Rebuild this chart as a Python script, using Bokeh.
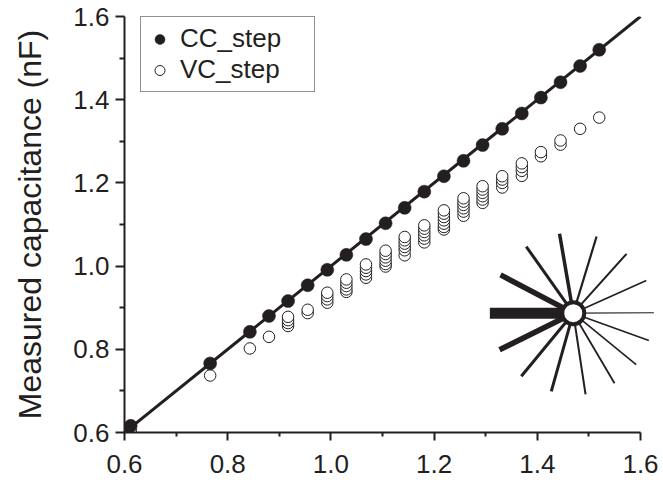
import math
from bokeh.plotting import figure
from bokeh.models import (ColumnDataSource, Legend, LegendItem, FixedTicker,
                          PrintfTickFormatter, Range1d)
from bokeh.embed import file_html
from bokeh.resources import INLINE

# ---------------- data ----------------
true_cap = [0.612, 0.766, 0.843, 0.880, 0.917, 0.955, 0.993, 1.030, 1.068, 1.106,
            1.143, 1.181, 1.219, 1.257, 1.294, 1.332, 1.370, 1.407, 1.445, 1.483, 1.520]
cc_step = [0.616, 0.766, 0.842, 0.880, 0.916, 0.954, 0.991, 1.027, 1.065, 1.103,
           1.140, 1.179, 1.216, 1.253, 1.291, 1.330, 1.367, 1.405, 1.442, 1.481, 1.520]
vc_step = [
    [0.605, 0.601],
    [0.737],
    [0.802],
    [0.830],
    [0.878, 0.870, 0.863, 0.856],
    [0.895, 0.887],
    [0.936, 0.928, 0.920, 0.912],
    [0.968, 0.960, 0.952, 0.944, 0.938],
    [1.004, 0.996, 0.988, 0.980, 0.972],
    [1.037, 1.029, 1.021, 1.013, 1.005, 0.999],
    [1.070, 1.062, 1.054, 1.046, 1.038, 1.026],
    [1.098, 1.090, 1.082, 1.074, 1.066, 1.057],
    [1.134, 1.126, 1.118, 1.110, 1.102, 1.094, 1.088],
    [1.163, 1.155, 1.147, 1.139, 1.131, 1.121],
    [1.192, 1.184, 1.176, 1.168, 1.160, 1.152],
    [1.216, 1.208, 1.200, 1.189],
    [1.247, 1.238, 1.229, 1.217],
    [1.274, 1.264],
    [1.302, 1.292],
    [1.330],
    [1.357],
]
identity_x = [0.6, 1.6]
identity_y = [0.6, 1.6]
x_major_ticks = [0.6, 0.8, 1.0, 1.2, 1.4, 1.6]
x_minor_ticks = [0.7, 0.9, 1.1, 1.3, 1.5]
y_major_ticks = [0.6, 0.8, 1.0, 1.2, 1.4, 1.6]
y_minor_ticks = [0.7, 0.9, 1.1, 1.3, 1.5]
series_names = ["CC_step", "VC_step"]
y_title = "Measured capacitance (nF)"

# ---------------- layout ----------------
INK = "#231f20"
FONT = "Liberation Sans"
W, H = 663, 480
B_LEFT, B_RIGHT, B_TOP, B_BOTTOM = 124, 8, 16, 48
frame_w = W - B_LEFT - B_RIGHT
frame_h = H - B_TOP - B_BOTTOM
px_per_x = 516.0
x0_axis = 0.6
x_end = x0_axis + frame_w / px_per_x
px_per_y = frame_h / (1.6 - 0.6)

p = figure(width=W, height=H, output_backend="svg", toolbar_location=None,
           x_range=Range1d(x0_axis, x_end), y_range=Range1d(0.6, 1.6),
           min_border_left=B_LEFT, min_border_right=B_RIGHT,
           min_border_top=B_TOP, min_border_bottom=B_BOTTOM)
p.outline_line_color = None
p.xgrid.grid_line_color = None
p.ygrid.grid_line_color = None
p.background_fill_color = "white"
p.border_fill_color = "white"

# VC_step open circles (lower ones first so upper ones lie on top)
vx, vy = [], []
for xv, stack in zip(true_cap, vc_step):
    for yv in sorted(stack):
        vx.append(xv)
        vy.append(yv)
vc_src = ColumnDataSource(dict(x=vx, y=vy))
vc_r = p.scatter("x", "y", source=vc_src, marker="circle", size=11.5,
                 fill_color="white", line_color=INK, line_width=1)

# identity line
p.line(identity_x, identity_y, line_color=INK, line_width=3)

# CC_step filled circles
cc_src = ColumnDataSource(dict(x=true_cap, y=cc_step))
cc_r = p.scatter("x", "y", source=cc_src, marker="circle", size=13,
                 fill_color=INK, line_color=INK, line_width=0.5)

# ---------------- decorative neuron icon ----------------
icon_cx, icon_cy = 1.4697, 0.8868
# (angle deg, length px, width px)
spokes = [(180, 83.4, 11), (152.2, 82.2, 5.5), (206.4, 82.3, 5.5), (125.2, 81.6, 3),
          (99.8, 80.6, 3.5), (73.1, 80.2, 2.2), (48.1, 79.8, 2.0), (24.1, 80.0, 1.6),
          (0.3, 80.6, 1.2), (-19.9, 80.4, 1.5), (-39.2, 81.2, 1.6), (-59.5, 81.3, 1.8),
          (-81.4, 82.2, 2.0), (-105.7, 81.3, 3.0), (-129.5, 81.7, 3.0)]
sx1 = [icon_cx + L * math.cos(math.radians(a)) / px_per_x for a, L, w in spokes]
sy1 = [icon_cy + L * math.sin(math.radians(a)) / px_per_y for a, L, w in spokes]
sp_src = ColumnDataSource(dict(x0=[icon_cx] * len(spokes), y0=[icon_cy] * len(spokes),
                               x1=sx1, y1=sy1, w=[s[2] for s in spokes]))
p.segment("x0", "y0", "x1", "y1", source=sp_src, line_color=INK, line_width="w")
p.scatter([icon_cx], [icon_cy], marker="circle", size=22, fill_color="white",
          line_color=INK, line_width=4)

# ---------------- axes ----------------
for ax, maj, mnr in ((p.xaxis[0], x_major_ticks, x_minor_ticks),
                     (p.yaxis[0], y_major_ticks, y_minor_ticks)):
    ax.ticker = FixedTicker(ticks=maj, minor_ticks=mnr)
    ax.formatter = PrintfTickFormatter(format="%.1f")
    ax.bounds = (0.6, 1.6)
    ax.axis_line_color = INK
    ax.axis_line_width = 2
    ax.major_tick_line_color = INK
    ax.minor_tick_line_color = INK
    ax.major_tick_line_width = 2
    ax.minor_tick_line_width = 2
    ax.major_tick_in = 0
    ax.minor_tick_in = 0
    ax.major_label_text_font = FONT
    ax.major_label_text_font_size = "26px"
    ax.major_label_text_color = INK

p.xaxis.major_tick_out = 8
p.xaxis.minor_tick_out = 4
p.xaxis.major_label_standoff = 14
p.yaxis.major_tick_out = 9
p.yaxis.minor_tick_out = 5
p.yaxis.major_label_standoff = 6

p.yaxis.axis_label = y_title
p.yaxis.axis_label_text_font = FONT
p.yaxis.axis_label_text_font_size = "32px"
p.yaxis.axis_label_text_font_style = "normal"
p.yaxis.axis_label_text_color = INK
p.yaxis.axis_label_standoff = 22

# ---------------- legend ----------------
legend = Legend(items=[LegendItem(label=series_names[0], renderers=[cc_r]),
                       LegendItem(label=series_names[1], renderers=[vc_r])],
                location=(16, frame_h - 76), orientation="vertical",
                padding=6, spacing=0, margin=0,
                glyph_width=25, glyph_height=28, label_height=28,
                label_text_line_height=0.9,
                label_standoff=8, label_width=128,
                label_text_font=FONT, label_text_font_size="26px",
                label_text_color=INK,
                border_line_color=INK, border_line_width=1.3,
                background_fill_color="white", background_fill_alpha=1.0)
p.add_layout(legend)

open("out.html", "w").write(file_html(p, INLINE))
